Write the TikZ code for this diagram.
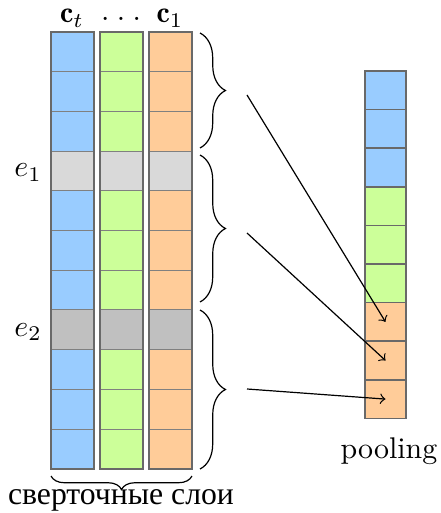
\documentclass[tikz,border=0pt]{standalone}
\usepackage{fontspec}
\newfontfamily\cyrfont{Liberation Serif}
\usetikzlibrary{decorations.pathreplacing}

\definecolor{cellblue}{RGB}{153,204,255}
\definecolor{cellgreen}{RGB}{204,255,153}
\definecolor{cellorange}{RGB}{255,204,153}
\definecolor{emblight}{RGB}{217,217,217}
\definecolor{embdark}{RGB}{192,192,192}
\definecolor{framegray}{RGB}{105,105,105}

\tikzset{
  gridline/.style={draw=gray, line width=0.3pt},
  colframe/.style={draw=framegray, line width=0.6pt},
  poolcell/.style={draw=framegray, line width=0.5pt, inner sep=0pt,
    minimum width=13.7pt, minimum height=12.9pt},
  sidebrace/.style={decorate, decoration={brace, amplitude=8.5pt}, line width=0.4pt},
  basebrace/.style={decorate, decoration={brace, amplitude=4.5pt}, line width=0.4pt},
  label/.style={anchor=base, inner sep=1pt},
  toplabel/.style={anchor=base, inner sep=0pt, text height=1.2ex}
}

\begin{document}
\begin{tikzpicture}[x=0.334pt, y=-0.334pt]

    \useasboundingbox (0,0) rectangle (440,513);

    % Parameters
    \def\ytop{32}     % top of the columns
    \def\rowh{39.7}   % row height
    \def\colw{43}     % column width

    % Convolution columns (one per filter)
    \foreach \xl/\col in {51/cellblue, 100/cellgreen, 149/cellorange} {
        \fill[\col] (\xl,\ytop) rectangle ++(\colw,11*\rowh);
        \fill[emblight] (\xl,\ytop+3*\rowh) rectangle ++(\colw,\rowh);
        \fill[embdark] (\xl,\ytop+7*\rowh) rectangle ++(\colw,\rowh);
        \foreach \r in {1,...,10}
            \draw[gridline] (\xl,\ytop+\r*\rowh) -- ++(\colw,0);
        \draw[colframe] (\xl,\ytop) rectangle ++(\colw,11*\rowh);
    }

    % Column labels
    \node[toplabel] (ct) at (72,23) {$\mathbf{c}_t$};
    \node[toplabel] (cdots) at (121,20.5) {.\hspace{2.5pt}.\hspace{2.5pt}.};
    \node[toplabel] (c1) at (170,23) {$\mathbf{c}_1$};

    % Separators between words
    \node[label] (e1) at (28,177) {$e_1$};
    \node[label] (e2) at (28,336) {$e_2$};

    % Pooling column
    \foreach \i/\col in {1/cellblue, 2/cellblue, 3/cellblue,
                         4/cellgreen, 5/cellgreen, 6/cellgreen,
                         7/cellorange, 8/cellorange, 9/cellorange}
        \node[poolcell, fill=\col] (pool\i) at (385.5,{71+(\i-0.5)*38.6}) {};
    \node[label] (pooling) at (389,458) {pooling};

    % Braces over the word windows
    \draw[sidebrace] (200,33) -- (200,148);
    \draw[sidebrace] (200,155) -- (200,302);
    \draw[sidebrace] (200,310) -- (200,469);

    % Brace under the columns
    \draw[basebrace] (192,476) -- (51,476);
    \node[label] (layers) at (121,504) {\cyrfont\fontsize{10.6}{12}\selectfont сверточные слои};

    % Max over each window
    \coordinate (w1) at (247,95);
    \coordinate (w2) at (247,233);
    \coordinate (w3) at (247,389);
    \draw[->] (w1) -- (pool7.center);
    \draw[->] (w2) -- (pool8.center);
    \draw[->] (w3) -- (pool9.center);

\end{tikzpicture}
\end{document}
